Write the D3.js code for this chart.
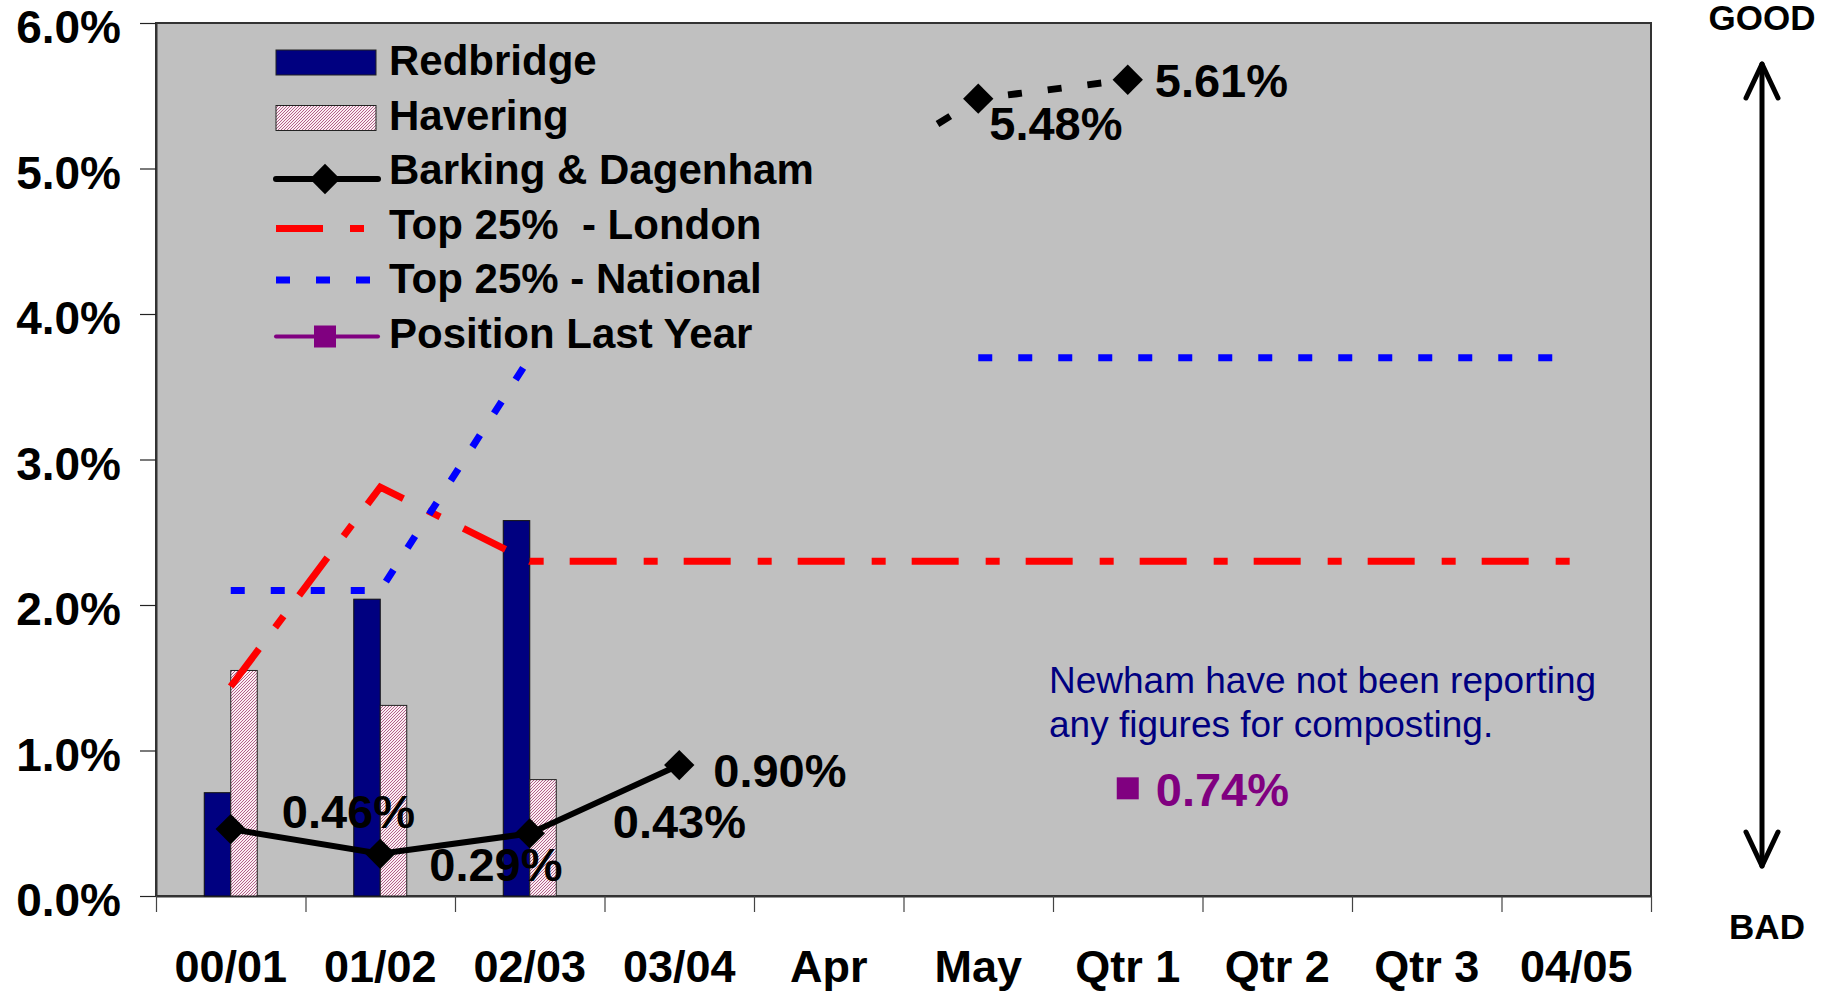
<!DOCTYPE html>
<html>
<head>
<meta charset="utf-8">
<script src="https://cdn.jsdelivr.net/npm/d3@7"></script>
<style>
  body { margin: 0; background: #fff; }
  svg { display: block; font-family: "Liberation Sans", Arial, sans-serif; }
</style>
</head>
<body>
<script>
// chart values
var categories = ["00/01", "01/02", "02/03", "03/04", "Apr", "May", "Qtr 1", "Qtr 2", "Qtr 3", "04/05"]
var redbridge = [0.71, 2.04, 2.58, null, null, null, null, null, null, null]
var havering = [1.55, 1.31, 0.80, null, null, null, null, null, null, null]
var barking = [0.46, 0.29, 0.43, 0.90, null, null, null, null, null, null]
var barkingMonthly = [null, null, null, null, 4.84, 5.48, 5.61, null, null, null]
var london = [1.44, 2.81, 2.30, 2.30, 2.30, 2.30, 2.30, 2.30, 2.30, 2.30]
var national = [2.1, 2.1, 3.7, null, null, 3.7, 3.7, 3.7, 3.7, 3.7]
var lastYear = [null, null, null, null, null, null, 0.74, null, null, null]
var yTicks = [0, 1, 2, 3, 4, 5, 6]
var legendLabels = ["Redbridge", "Havering", "Barking & Dagenham", "Top 25%  - London", "Top 25% - National", "Position Last Year"]
var note = ["Newham have not been reporting", "any figures for composting."]

// label nudges (Excel places them by hand), in px from the point
var barkingOffsets = [[51, -1], [49, 27], [83, 5], [34, 22]]
var monthlyOffsets = { "May": [11, 41], "Qtr 1": [27, 17] }
var lastYearOffset = [28, 18]

var W = 1832, H = 992
var pLeft = 156, pRight = 1651, pTop = 23, pBottom = 896

var svg = d3.select("body").append("svg")
    .attr("width", W)
    .attr("height", H)

var defs = svg.append("defs")
var pat = defs.append("pattern")
    .attr("id", "hatch")
    .attr("patternUnits", "userSpaceOnUse")
    .attr("width", 3).attr("height", 3)
pat.append("rect").attr("width", 3).attr("height", 3).attr("fill", "#fbeef3")
pat.append("path").attr("d", "M-1,1 l2,-2 M0,3 l3,-3 M2,4 l2,-2")
    .attr("stroke", "#a03c6e").attr("stroke-width", 0.8)

var x = d3.scaleBand().domain(categories).range([pLeft, pRight])
var xEdge = d3.scaleLinear().domain([0, categories.length]).range([pLeft, pRight])
var y = d3.scaleLinear().domain([0, 6]).range([pBottom, pTop])
var cx = function (i) { return x(categories[i]) + x.bandwidth() / 2 }

// plot area
svg.append("rect")
    .attr("x", pLeft).attr("y", pTop)
    .attr("width", pRight - pLeft).attr("height", pBottom - pTop)
    .attr("fill", "#c0c0c0")
    .attr("stroke", "#333").attr("stroke-width", 2)

// y axis
var yAxis = svg.append("g")
    .attr("transform", "translate(" + pLeft + ",0)")
    .call(d3.axisLeft(y).tickValues(yTicks).tickSize(16).tickSizeOuter(0).tickPadding(19)
        .tickFormat(function (d) { return d.toFixed(1) + "%" }))
yAxis.select(".domain").attr("stroke", "#333").attr("stroke-width", 2)
yAxis.selectAll(".tick line").attr("stroke", "#222").attr("stroke-width", 1.2)
yAxis.selectAll("text")
    .attr("font-size", 46).attr("font-weight", "bold").attr("fill", "#000")
    .attr("font-family", "'Liberation Sans', Arial, sans-serif")
    .attr("dy", "0.43em")

// x axis: tick marks on the category edges, labels in the middle
var xTicks = svg.append("g")
    .attr("transform", "translate(0," + pBottom + ")")
    .call(d3.axisBottom(xEdge).tickValues(d3.range(categories.length + 1)).tickSize(16).tickSizeOuter(0).tickFormat(""))
xTicks.select(".domain").attr("stroke", "#333").attr("stroke-width", 2)
xTicks.selectAll(".tick line").attr("stroke", "#444").attr("stroke-width", 1.2)

var xLabels = svg.append("g")
    .attr("transform", "translate(0," + pBottom + ")")
    .call(d3.axisBottom(x).tickSize(0).tickPadding(0))
xLabels.select(".domain").remove()
xLabels.selectAll("text")
    .attr("y", 86).attr("dy", 0)
    .attr("font-size", 45).attr("font-weight", "bold").attr("fill", "#000")
    .attr("font-family", "'Liberation Sans', Arial, sans-serif")

// bars
var barW = 26.5
svg.append("g").selectAll("rect")
    .data(redbridge.map(function (v, i) { return { v: v, i: i } }).filter(function (d) { return d.v != null }))
    .enter().append("rect")
    .attr("x", function (d) { return cx(d.i) - barW })
    .attr("y", function (d) { return y(d.v) })
    .attr("width", barW)
    .attr("height", function (d) { return y(0) - y(d.v) })
    .attr("fill", "#000080").attr("stroke", "#111").attr("stroke-width", 1)

svg.append("g").selectAll("rect")
    .data(havering.map(function (v, i) { return { v: v, i: i } }).filter(function (d) { return d.v != null }))
    .enter().append("rect")
    .attr("x", function (d) { return cx(d.i) })
    .attr("y", function (d) { return y(d.v) })
    .attr("width", barW)
    .attr("height", function (d) { return y(0) - y(d.v) })
    .attr("fill", "url(#hatch)").attr("stroke", "#222").attr("stroke-width", 1)

var line = d3.line()
    .defined(function (d) { return d.v != null })
    .x(function (d) { return cx(d.i) })
    .y(function (d) { return y(d.v) })
var pts = function (arr) { return arr.map(function (v, i) { return { v: v, i: i } }) }

// targets
svg.append("path")
    .attr("d", line(pts(london)))
    .attr("fill", "none").attr("stroke", "#ff0000").attr("stroke-width", 7)
    .attr("stroke-dasharray", "47,27,14,26")

svg.append("path")
    .attr("d", line(pts(national)))
    .attr("fill", "none").attr("stroke", "#0000ff").attr("stroke-width", 7)
    .attr("stroke-dasharray", "14,26")

// Barking & Dagenham yearly
var diamond = d3.symbol().type(d3.symbolSquare).size(460)
svg.append("path")
    .attr("d", line(pts(barking)))
    .attr("fill", "none").attr("stroke", "#000").attr("stroke-width", 6)
var bPts = pts(barking).filter(function (d) { return d.v != null })
svg.append("g").selectAll("path")
    .data(bPts).enter().append("path")
    .attr("d", diamond)
    .attr("transform", function (d) { return "translate(" + cx(d.i) + "," + y(d.v) + ") rotate(45)" })
    .attr("fill", "#000")

// Barking & Dagenham monthly (dashed)
var mPts = pts(barkingMonthly).filter(function (d) { return d.v != null })
var lead = svg.append("path")
    .attr("d", line(mPts.slice(0, 2)))
    .attr("fill", "none").attr("stroke", "#000").attr("stroke-width", 7)
var leadLen = lead.node().getTotalLength()
lead.attr("stroke-dasharray", "0," + (leadLen - 48) + ",15," + leadLen)
svg.append("path")
    .attr("d", line(mPts.slice(1)))
    .attr("fill", "none").attr("stroke", "#000").attr("stroke-width", 7)
    .attr("stroke-dasharray", "14,26").attr("stroke-dashoffset", -30)
svg.append("g").selectAll("path")
    .data(mPts.slice(1)).enter().append("path")
    .attr("d", diamond)
    .attr("transform", function (d) { return "translate(" + cx(d.i) + "," + y(d.v) + ") rotate(45)" })
    .attr("fill", "#000")

// position last year
var lPts = pts(lastYear).filter(function (d) { return d.v != null })
svg.append("g").selectAll("rect")
    .data(lPts).enter().append("rect")
    .attr("x", function (d) { return cx(d.i) - 11 })
    .attr("y", function (d) { return y(d.v) - 11 })
    .attr("width", 22).attr("height", 22)
    .attr("fill", "#800080")

// data labels
var fmt = function (v) { return v.toFixed(2) + "%" }
var labels = svg.append("g")
    .attr("font-size", 47).attr("font-weight", "bold")
labels.selectAll(".b")
    .data(bPts).enter().append("text")
    .attr("x", function (d, k) { return cx(d.i) + barkingOffsets[k][0] })
    .attr("y", function (d, k) { return y(d.v) + barkingOffsets[k][1] })
    .attr("fill", "#000")
    .text(function (d) { return fmt(d.v) })
labels.selectAll(".m")
    .data(mPts.slice(1)).enter().append("text")
    .attr("x", function (d) { return cx(d.i) + monthlyOffsets[categories[d.i]][0] })
    .attr("y", function (d) { return y(d.v) + monthlyOffsets[categories[d.i]][1] })
    .attr("fill", "#000")
    .text(function (d) { return fmt(d.v) })
labels.selectAll(".l")
    .data(lPts).enter().append("text")
    .attr("x", function (d) { return cx(d.i) + lastYearOffset[0] })
    .attr("y", function (d) { return y(d.v) + lastYearOffset[1] })
    .attr("fill", "#800080")
    .text(function (d) { return fmt(d.v) })

// note
svg.append("text")
    .attr("x", 1049).attr("y", 693)
    .attr("font-size", 37).attr("fill", "#000080")
    .selectAll("tspan").data(note).enter().append("tspan")
    .attr("x", 1049).attr("dy", function (d, i) { return i ? 44 : 0 })
    .text(function (d) { return d })

// legend
var legend = svg.append("g")
var rowY = function (i) { return 75 + 54.5 * i }
var sw0 = 276, sw1 = 376, swMid = 325
legend.append("rect").attr("x", sw0).attr("y", rowY(0) - 25).attr("width", sw1 - sw0).attr("height", 25)
    .attr("fill", "#000080").attr("stroke", "#222").attr("stroke-width", 1)
legend.append("rect").attr("x", sw0).attr("y", rowY(1) - 24).attr("width", sw1 - sw0).attr("height", 25)
    .attr("fill", "url(#hatch)").attr("stroke", "#222").attr("stroke-width", 1)
legend.append("line").attr("x1", sw0).attr("x2", sw1 + 2).attr("y1", rowY(2) - 5).attr("y2", rowY(2) - 5)
    .attr("stroke", "#000").attr("stroke-width", 6).attr("stroke-linecap", "round")
legend.append("path").attr("d", diamond)
    .attr("transform", "translate(" + swMid + "," + (rowY(2) - 5) + ") rotate(45)")
legend.append("line").attr("x1", sw0).attr("x2", sw1).attr("y1", rowY(3) - 10).attr("y2", rowY(3) - 10)
    .attr("stroke", "#ff0000").attr("stroke-width", 7).attr("stroke-dasharray", "47,27,14,26")
legend.append("line").attr("x1", sw0).attr("x2", sw1).attr("y1", rowY(4) - 13).attr("y2", rowY(4) - 13)
    .attr("stroke", "#0000ff").attr("stroke-width", 7).attr("stroke-dasharray", "14,26")
legend.append("line").attr("x1", sw0).attr("x2", sw1 + 2).attr("y1", rowY(5) - 11).attr("y2", rowY(5) - 11)
    .attr("stroke", "#800080").attr("stroke-width", 4).attr("stroke-linecap", "round")
legend.append("rect").attr("x", swMid - 11).attr("y", rowY(5) - 22).attr("width", 22).attr("height", 22)
    .attr("fill", "#800080")
legend.selectAll("text")
    .data(legendLabels).enter().append("text")
    .attr("x", 389).attr("y", function (d, i) { return rowY(i) })
    .attr("font-size", 42).attr("font-weight", "bold").attr("fill", "#000")
    .style("white-space", "pre").attr("xml:space", "preserve")
    .text(function (d) { return d })

// GOOD / BAD arrow
var ax = 1762
svg.append("text").attr("x", ax).attr("y", 30).attr("text-anchor", "middle")
    .attr("font-size", 35).attr("font-weight", "bold").text("GOOD")
svg.append("text").attr("x", ax + 5).attr("y", 939).attr("text-anchor", "middle")
    .attr("font-size", 35).attr("font-weight", "bold").text("BAD")
var arrow = svg.append("g").attr("stroke", "#000").attr("stroke-width", 5)
    .attr("fill", "none").attr("stroke-linecap", "round").attr("stroke-linejoin", "round")
arrow.append("line").attr("x1", ax).attr("x2", ax).attr("y1", 64).attr("y2", 866)
arrow.append("polyline").attr("points", [[ax - 16, 98], [ax, 64], [ax + 16, 98]].join(" "))
arrow.append("polyline").attr("points", [[ax - 16, 832], [ax, 866], [ax + 16, 832]].join(" "))
</script>
</body>
</html>
